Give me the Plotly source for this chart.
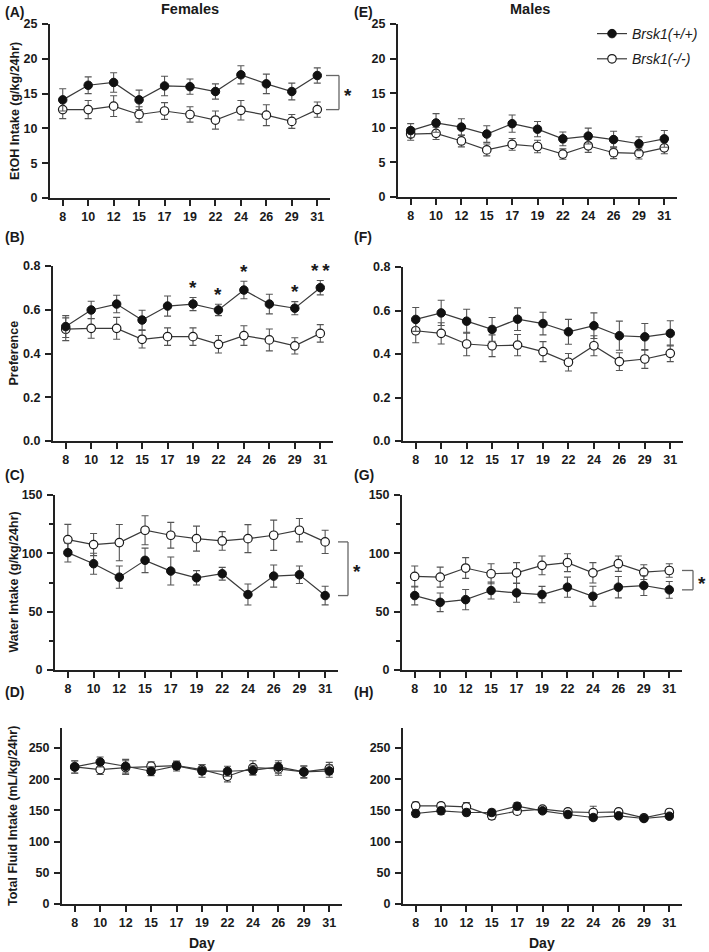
import plotly.graph_objects as go

days = ["8", "10", "12", "15", "17", "19", "22", "24", "26", "29", "31"]

# (A) Females EtOH intake
etoh_f_wt = [14.1, 16.2, 16.6, 14.1, 16.1, 16.0, 15.3, 17.7, 16.4, 15.3, 17.6]
etoh_f_wt_sem = [1.6, 1.2, 1.4, 1.4, 1.4, 1.1, 1.1, 1.3, 1.4, 1.2, 1.1]
etoh_f_ko = [12.7, 12.7, 13.2, 12.0, 12.5, 12.0, 11.2, 12.6, 11.9, 11.0, 12.7]
etoh_f_ko_sem = [1.3, 1.3, 1.5, 1.1, 1.2, 1.1, 1.3, 1.4, 1.5, 1.0, 1.1]

# (E) Males EtOH intake
etoh_m_wt = [9.6, 10.7, 10.1, 9.1, 10.6, 9.8, 8.4, 8.8, 8.3, 7.7, 8.4]
etoh_m_wt_sem = [1.0, 1.35, 1.2, 1.2, 1.25, 1.1, 1.0, 1.15, 1.2, 1.0, 1.2]
etoh_m_ko = [9.1, 9.2, 8.1, 6.8, 7.6, 7.3, 6.2, 7.4, 6.4, 6.3, 7.1]
etoh_m_ko_sem = [0.9, 0.9, 0.85, 0.85, 0.85, 0.9, 0.75, 0.95, 0.85, 0.8, 0.85]

# (B) Females preference
pref_f_wt = [0.523, 0.599, 0.626, 0.553, 0.617, 0.626, 0.599, 0.690, 0.626, 0.607, 0.701]
pref_f_wt_sem = [0.05, 0.04, 0.04, 0.045, 0.046, 0.03, 0.026, 0.04, 0.045, 0.03, 0.033]
pref_f_ko = [0.511, 0.515, 0.515, 0.465, 0.477, 0.477, 0.442, 0.482, 0.462, 0.435, 0.492]
pref_f_ko_sem = [0.052, 0.045, 0.05, 0.04, 0.04, 0.04, 0.04, 0.045, 0.05, 0.037, 0.04]
pref_f_sig = ["", "", "", "", "", "*", "*", "*", "", "*", "*\u2009*"]

# (F) Males preference
pref_m_wt = [0.559, 0.589, 0.551, 0.513, 0.560, 0.540, 0.502, 0.530, 0.484, 0.479, 0.495]
pref_m_wt_sem = [0.055, 0.058, 0.055, 0.055, 0.052, 0.052, 0.057, 0.059, 0.067, 0.061, 0.058]
pref_m_ko = [0.507, 0.495, 0.446, 0.438, 0.441, 0.411, 0.362, 0.438, 0.365, 0.377, 0.403]
pref_m_ko_sem = [0.055, 0.049, 0.054, 0.05, 0.049, 0.046, 0.04, 0.046, 0.041, 0.043, 0.038]

# (C) Females water intake
water_f_wt = [100.6, 91.1, 79.6, 94.0, 84.8, 79.0, 82.5, 64.7, 80.5, 81.6, 63.8]
water_f_wt_sem = [8, 9, 9.5, 10.5, 12, 6.2, 5.5, 9, 9.5, 7.5, 8]
water_f_ko = [111.8, 107.5, 109.2, 119.8, 115.5, 112.6, 110.6, 112.6, 115.5, 119.8, 109.8]
water_f_ko_sem = [13, 9.5, 15.5, 12.4, 11, 10.7, 8, 12, 13, 10, 10]

# (G) Males water intake
water_m_wt = [63.8, 58.0, 60.3, 68.1, 66.1, 64.7, 71.0, 63.2, 71.0, 72.4, 68.7]
water_m_wt_sem = [8, 8, 8.7, 7.2, 8, 7, 8.6, 8.6, 9.2, 8.5, 7.2]
water_m_ko = [80.2, 79.6, 87.4, 82.5, 83.3, 89.7, 92.0, 83.3, 91.1, 83.9, 85.3]
water_m_ko_sem = [9, 8.6, 8.9, 8.6, 8.7, 8, 7.7, 8.7, 6.6, 6.3, 5.8]

# (D) Females total fluid intake
total_f_wt = [219.6, 227.6, 220.7, 212.7, 221.2, 213.2, 212.7, 214.3, 219.6, 211.6, 213.2]
total_f_wt_sem = [9.6, 8, 11, 7, 8, 10, 8, 8, 10, 10, 10]
total_f_ko = [219.6, 215.4, 218.6, 220.7, 221.7, 215.4, 204.7, 218.6, 216.4, 211.6, 217.0]
total_f_ko_sem = [10, 8, 11, 7, 6, 8, 9, 11, 10, 9, 10]

# (H) Males total fluid intake
total_m_wt = [145.0, 149.3, 146.6, 146.6, 156.7, 149.3, 143.4, 138.6, 141.3, 137.0, 140.7]
total_m_wt_sem = [5, 6, 5, 5, 6, 4, 5, 4, 4, 4, 4]
total_m_ko = [157.2, 157.2, 155.7, 141.3, 148.7, 151.9, 147.7, 146.6, 147.7, 138.1, 146.6]
total_m_ko_sem = [6, 5, 7, 6, 5, 4, 5, 10, 5, 4, 5]

wt_name = "<i>Brsk1(+/+)</i>"
ko_name = "<i>Brsk1(-/-)</i>"

W, H = 709, 952
FONT = "Liberation Sans, Arial, sans-serif"
TXT = "#1a1a1a"


def px_dom_x(a, b):
    return [a / W, b / W]


def px_dom_y(top, bottom):
    return [(H - bottom) / H, (H - top) / H]


panels = [
    dict(letter="A", n=1, xd=(50, 330), yd=(24, 198), yr=[0, 25], dtick=5, fmt="", minor=None,
         wt=etoh_f_wt, wts=etoh_f_wt_sem, ko=etoh_f_ko, kos=etoh_f_ko_sem,
         ytitle="EtOH Intake (g/kg/24hr)", tx=15, ly=12),
    dict(letter="E", n=2, xd=(398, 677), yd=(24, 197), yr=[0, 25], dtick=5, fmt="", minor=None,
         wt=etoh_m_wt, wts=etoh_m_wt_sem, ko=etoh_m_ko, kos=etoh_m_ko_sem, ytitle=None, ly=12),
    dict(letter="B", n=3, xd=(53, 333), yd=(266, 441), yr=[0, 0.8], dtick=0.2, fmt=".1f", minor=None,
         wt=pref_f_wt, wts=pref_f_wt_sem, ko=pref_f_ko, kos=pref_f_ko_sem,
         ytitle="Preference", tx=13, ly=237),
    dict(letter="F", n=4, xd=(403, 683), yd=(267, 441), yr=[0, 0.8], dtick=0.2, fmt=".1f", minor=None,
         wt=pref_m_wt, wts=pref_m_wt_sem, ko=pref_m_ko, kos=pref_m_ko_sem, ytitle=None, ly=237),
    dict(letter="C", n=5, xd=(55, 338), yd=(495, 670), yr=[0, 150], dtick=50, fmt="", minor=25,
         wt=water_f_wt, wts=water_f_wt_sem, ko=water_f_ko, kos=water_f_ko_sem,
         ytitle="Water Intake (g/kg/24hr)", tx=13, ly=475),
    dict(letter="G", n=6, xd=(402, 682), yd=(495, 670), yr=[0, 150], dtick=50, fmt="", minor=25,
         wt=water_m_wt, wts=water_m_wt_sem, ko=water_m_ko, kos=water_m_ko_sem, ytitle=None, ly=475),
    dict(letter="D", n=7, xd=(62, 342), yd=(728, 904), yr=[0, 282], dtick=50, fmt="", minor=None,
         wt=total_f_wt, wts=total_f_wt_sem, ko=total_f_ko, kos=total_f_ko_sem,
         ytitle="Total Fluid Intake (mL/kg/24hr)", tx=13, ly=692),
    dict(letter="H", n=8, xd=(403, 682), yd=(728, 904), yr=[0, 282], dtick=50, fmt="", minor=None,
         wt=total_m_wt, wts=total_m_wt_sem, ko=total_m_ko, kos=total_m_ko_sem, ytitle=None, ly=692),
]

fig = go.Figure()
annotations = []
shapes = []

for p in panels:
    n = p["n"]
    xa = "x" if n == 1 else f"x{n}"
    ya = "y" if n == 1 else f"y{n}"
    show = (n == 2)
    fig.add_trace(go.Scatter(
        x=days, y=p["ko"], xaxis=xa, yaxis=ya, name=ko_name, showlegend=show,
        legendrank=2, legendgroup="ko", mode="lines+markers",
        line=dict(color="#3a3a3a", width=1.2),
        marker=dict(symbol="circle", size=8.5, color="white", line=dict(color="#1a1a1a", width=1.2)),
        error_y=dict(type="data", array=p["kos"], visible=True, color="#555555", thickness=1.1, width=3.5),
        cliponaxis=False,
    ))
    fig.add_trace(go.Scatter(
        x=days, y=p["wt"], xaxis=xa, yaxis=ya, name=wt_name, showlegend=show,
        legendrank=1, legendgroup="wt", mode="lines+markers",
        line=dict(color="#3a3a3a", width=1.2),
        marker=dict(symbol="circle", size=8.5, color="#111111", line=dict(color="#111111", width=1)),
        error_y=dict(type="data", array=p["wts"], visible=True, color="#555555", thickness=1.1, width=3.5),
        cliponaxis=False,
    ))

    xkey = "xaxis" if n == 1 else f"xaxis{n}"
    ykey = "yaxis" if n == 1 else f"yaxis{n}"
    fig.layout[xkey] = dict(
        domain=px_dom_x(*p["xd"]), anchor=ya, type="category", range=[-0.5, 10.5],
        showline=True, linecolor="#222222", linewidth=2, ticks="outside", ticklen=6,
        tickwidth=1.5, tickcolor="#222222", showgrid=False, zeroline=False,
        tickfont=dict(family=FONT, size=12.5, color=TXT, weight="bold"),
        fixedrange=True, automargin=False,
    )
    yax = dict(
        domain=px_dom_y(*p["yd"]), anchor=xa, range=p["yr"], dtick=p["dtick"], tick0=0,
        showline=True, linecolor="#222222", linewidth=2, ticks="outside", ticklen=6,
        tickwidth=1.5, tickcolor="#222222", showgrid=False, zeroline=False,
        tickfont=dict(family=FONT, size=12.5, color=TXT, weight="bold"),
        tickformat=p["fmt"], ticklabelstandoff=2, fixedrange=True, automargin=False,
    )
    if p["minor"]:
        yax["minor"] = dict(dtick=p["minor"], tick0=0, ticks="outside", ticklen=4,
                            tickwidth=1.5, tickcolor="#222222", showgrid=False)
    fig.layout[ykey] = yax

    lx = 3 if p["xd"][0] < 200 else 352
    annotations.append(dict(
        text=f"({p['letter']})", x=lx / W, y=(H - p["ly"]) / H, xref="paper", yref="paper",
        xanchor="left", yanchor="middle", showarrow=False,
        font=dict(family=FONT, size=14, color=TXT, weight="bold"),
    ))
    if p["ytitle"]:
        yc = (p["yd"][0] + p["yd"][1]) / 2
        annotations.append(dict(
            text=p["ytitle"], x=p["tx"] / W, y=(H - yc) / H, xref="paper", yref="paper",
            textangle=-90, xanchor="center", yanchor="middle", showarrow=False,
            font=dict(family=FONT, size=12.5, color=TXT, weight="bold"),
        ))


def bracket(n, xd, x0px, x1px, ya_val, yb_val, starpx, star_anchor="center"):
    xr = "x domain" if n == 1 else f"x{n} domain"
    yr = "y" if n == 1 else f"y{n}"
    width = xd[1] - xd[0]
    u0 = (x0px - xd[0]) / width
    u1 = (x1px - xd[0]) / width
    us = (starpx - xd[0]) / width
    line = dict(color="#666666", width=1.3)
    shapes.append(dict(type="line", xref=xr, yref=yr, x0=u0, x1=u1, y0=ya_val, y1=ya_val, line=line))
    shapes.append(dict(type="line", xref=xr, yref=yr, x0=u1, x1=u1, y0=ya_val, y1=yb_val, line=line))
    shapes.append(dict(type="line", xref=xr, yref=yr, x0=u0, x1=u1, y0=yb_val, y1=yb_val, line=line))
    annotations.append(dict(
        text="*", xref=xr, yref=yr, x=us, y=(ya_val + yb_val) / 2, showarrow=False,
        xanchor=star_anchor, yanchor="middle", yshift=-3,
        font=dict(family=FONT, size=19, color=TXT, weight="bold"),
    ))


bracket(1, (50, 330), 326, 339, etoh_f_wt[-1], etoh_f_ko[-1], 348)
bracket(5, (55, 338), 338, 348, water_f_ko[-1], water_f_wt[-1], 357)
bracket(6, (402, 682), 682, 693, water_m_ko[-1], water_m_wt[-1], 708, "right")

# significance stars in panel B (category index positions)
for i, (v, s, sig) in enumerate(zip(pref_f_wt, pref_f_wt_sem, pref_f_sig)):
    if sig:
        annotations.append(dict(
            text=sig, x=i, y=v + s, xref="x3", yref="y3", showarrow=False,
            xanchor="center", yanchor="middle", yshift=10,
            font=dict(family=FONT, size=19, color=TXT, weight="bold"),
        ))

annotations.append(dict(text="Females", x=190 / W, y=(H - 9) / H, xref="paper", yref="paper",
                        showarrow=False, xanchor="center", yanchor="middle",
                        font=dict(family=FONT, size=14.5, color=TXT, weight="bold")))
annotations.append(dict(text="Males", x=530 / W, y=(H - 9) / H, xref="paper", yref="paper",
                        showarrow=False, xanchor="center", yanchor="middle",
                        font=dict(family=FONT, size=14.5, color=TXT, weight="bold")))
annotations.append(dict(text="Day", x=202 / W, y=(H - 943) / H, xref="paper", yref="paper",
                        showarrow=False, xanchor="center", yanchor="middle",
                        font=dict(family=FONT, size=14, color=TXT, weight="bold")))
annotations.append(dict(text="Day", x=542 / W, y=(H - 943) / H, xref="paper", yref="paper",
                        showarrow=False, xanchor="center", yanchor="middle",
                        font=dict(family=FONT, size=14, color=TXT, weight="bold")))

fig.update_layout(
    width=W, height=H, margin=dict(l=0, r=0, t=0, b=0, autoexpand=False),
    paper_bgcolor="white", plot_bgcolor="white",
    font=dict(family=FONT, color=TXT),
    showlegend=True,
    legend=dict(x=592 / W, y=(H - 18) / H, xanchor="left", yanchor="top",
                bgcolor="rgba(0,0,0,0)", itemwidth=30, traceorder="grouped",
                tracegroupgap=4,
                font=dict(family=FONT, size=14, color=TXT)),
    annotations=annotations, shapes=shapes,
)

fig.write_html("out.html", config={"displayModeBar": False},
               post_script="document.body.style.margin='0';document.body.style.overflow='hidden';")
